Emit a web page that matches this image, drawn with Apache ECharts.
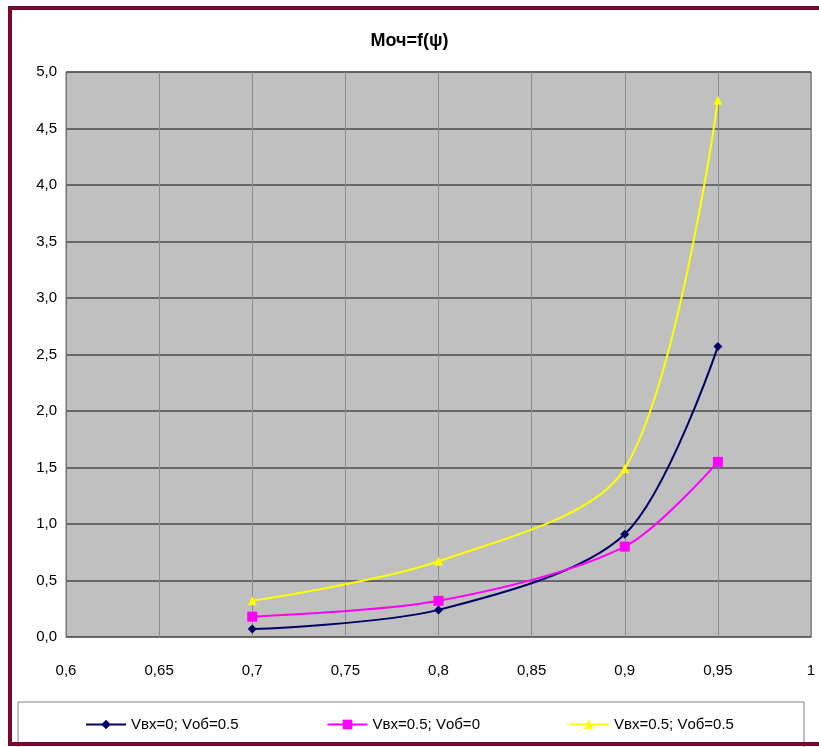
<!DOCTYPE html>
<html>
<head>
<meta charset="utf-8">
<script src="https://cdn.jsdelivr.net/npm/echarts@6/dist/echarts.min.js"></script>
<style>
  html, body { margin: 0; padding: 0; background: #fff; }
  #chart { width: 819px; height: 747px; }
</style>
</head>
<body>
<div id="chart"></div>
<script>
// Relative flow coefficient ψ on the x axis
const psi = [0.7, 0.8, 0.9, 0.95];

// Моч for each velocity combination
const seriesNames = ['Vвх=0; Vоб=0.5', 'Vвх=0.5; Vоб=0', 'Vвх=0.5; Vоб=0.5'];
const mochA = [0.07, 0.24, 0.91, 2.57];
const mochB = [0.18, 0.32, 0.80, 1.55];
const mochC = [0.32, 0.67, 1.49, 4.75];

const colors = ['#000066', '#ff00ff', '#ffff00'];
const symbols = ['diamond', 'rect', 'triangle'];
const values = [mochA, mochB, mochC];

const comma = (v, d) => (d == null ? String(v) : v.toFixed(d)).replace('.', ',');

const chart = echarts.init(document.getElementById('chart'));
chart.setOption({
  animation: false,
  backgroundColor: '#ffffff',
  title: {
    text: 'Моч=f(ψ)',
    left: 'center',
    top: 27,
    textStyle: { fontFamily: 'Arial, Liberation Sans', fontSize: 18, fontWeight: 'bold', color: '#000' }
  },
  graphic: [
    {
      type: 'rect', z: 100, silent: true,
      shape: { x: 10, y: 8, width: 840, height: 736 },
      style: { fill: 'none', stroke: '#7a0a2a', lineWidth: 4 }
    },
    {
      type: 'rect', z: 0, silent: true,
      shape: { x: 18, y: 702, width: 786, height: 50 },
      style: { fill: '#ffffff', stroke: '#808080', lineWidth: 1 }
    }
  ],
  legend: {
    top: 712,
    left: 'center',
    itemGap: 88,
    itemWidth: 40,
    itemHeight: 12,
    textStyle: { fontFamily: 'Arial, Liberation Sans', fontSize: 15, color: '#000' },
    data: seriesNames
  },
  grid: {
    left: 66, right: 8, top: 72, bottom: 110,
    show: true, backgroundColor: '#c0c0c0', borderColor: '#707070', borderWidth: 1
  },
  xAxis: {
    type: 'value',
    min: 0.6, max: 1, interval: 0.05,
    axisLine: { show: true, lineStyle: { color: '#707070' } },
    axisTick: { show: false },
    axisLabel: {
      margin: 26,
      fontFamily: 'Arial, Liberation Sans', fontSize: 15, color: '#000',
      formatter: v => comma(Math.round(v * 100) / 100)
    },
    splitLine: { show: true, lineStyle: { color: '#8c8c8c', width: 1 } }
  },
  yAxis: {
    type: 'value',
    min: 0, max: 5, interval: 0.5,
    axisLine: { show: true, lineStyle: { color: '#707070' } },
    axisTick: { show: false },
    axisLabel: {
      margin: 9,
      fontFamily: 'Arial, Liberation Sans', fontSize: 15, color: '#000',
      formatter: v => comma(v, 1)
    },
    splitLine: { show: true, lineStyle: { color: '#4a4a4a', width: 1.5 } }
  },
  series: seriesNames.map((name, i) => ({
    name: name,
    type: 'line',
    smooth: 0.3,
    symbol: symbols[i],
    symbolSize: i === 1 ? 10 : 9,
    lineStyle: { color: colors[i], width: 2 },
    itemStyle: { color: colors[i] },
    data: psi.map((x, k) => [x, values[i][k]])
  }))
});
</script>
</body>
</html>
